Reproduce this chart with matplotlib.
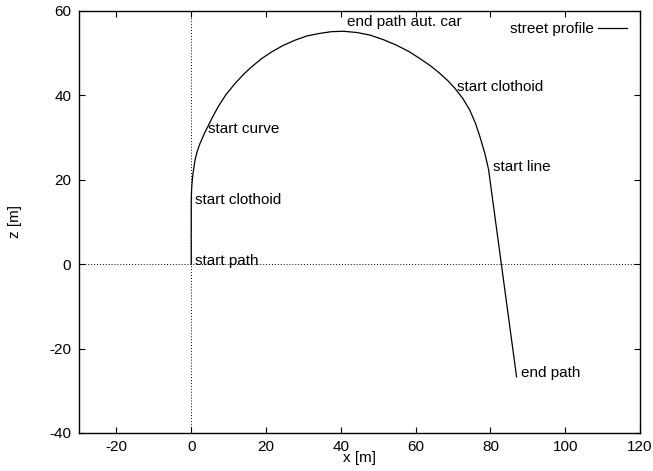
import matplotlib
matplotlib.use("Agg")
import matplotlib.pyplot as plt
from matplotlib.ticker import MultipleLocator

plt.rcParams["font.family"] = ["Liberation Sans", "DejaVu Sans"]
plt.rcParams["font.size"] = 11
plt.rcParams["axes.unicode_minus"] = False

# Street profile: sampled (x, z) positions along the path in metres
path_x = [0.0, 0.0, 0.05, 0.15, 0.3, 0.5, 0.75, 1.0, 1.6, 2.35, 3.7, 5.5,
          7.2, 9.3, 11.7, 14.0, 16.2, 18.8, 21.5, 24.5, 27.8, 31.0, 34.4,
          37.5, 40.7, 44.3, 47.8, 51.4, 54.9, 58.2, 61.2, 64.0, 66.5, 68.6,
          70.5, 72.6, 74.5, 76.0, 77.2, 78.5, 79.5, 87.0]
path_z = [0.0, 14.5, 16.5, 18.3, 20.0, 21.6, 23.1, 24.6, 26.7, 28.6, 31.3,
          34.5, 37.3, 40.2, 42.8, 45.0, 46.8, 48.7, 50.3, 51.8, 53.1, 54.1,
          54.7, 55.1, 55.2, 54.9, 54.3, 53.2, 51.9, 50.4, 48.7, 47.0, 45.2,
          43.5, 41.7, 39.3, 36.5, 33.4, 30.2, 26.3, 22.5, -26.7]

# Annotations along the path (text anchor: left edge, vertical centre)
label_text = ["start path", "start clothoid", "start curve",
              "end path aut. car", "start clothoid", "start line", "end path"]
label_x = [1.0, 1.0, 4.5, 41.7, 71.0, 80.6, 88.2]
label_z = [0.8, 15.2, 32.0, 57.3, 42.0, 23.1, -25.9]

x_limits = (-30, 120)
z_limits = (-40, 60)
tick_step = 20

fig = plt.figure(figsize=(6.53, 4.71), dpi=100)
ax = fig.add_axes([79 / 653, 38 / 471, 561 / 653, 422 / 471])

# zero axes
ax.axhline(0, color="black", lw=0.7, ls=(0, (1, 2)), zorder=1)
ax.axvline(0, color="black", lw=0.7, ls=(0, (1, 2)), zorder=1)

ax.plot(path_x, path_z, color="black", lw=0.9, label="street profile", zorder=3)

for txt, lx, lz in zip(label_text, label_x, label_z):
    ax.text(lx, lz, txt, ha="left", va="center", fontsize=11, zorder=4)

ax.set_xlim(*x_limits)
ax.set_ylim(*z_limits)
ax.xaxis.set_major_locator(MultipleLocator(tick_step))
ax.yaxis.set_major_locator(MultipleLocator(tick_step))
ax.tick_params(direction="in", top=True, right=True, length=4.3, width=0.8,
               labelsize=11)
ax.tick_params(axis="y", pad=5.5)
ax.tick_params(axis="x", pad=5.0)
for sp in ax.spines.values():
    sp.set_linewidth(1.0)

ax.set_xlabel("x [m]", fontsize=11)
ax.xaxis.set_label_coords(0.5, -0.059)
ax.xaxis.label.set_verticalalignment("center")
ax.set_ylabel("z [m]", fontsize=11)
ax.yaxis.set_label_coords(-0.114, 0.5)
ax.yaxis.label.set_verticalalignment("center")

ax.legend(loc="center right", bbox_to_anchor=(0.976, 0.9566), frameon=False,
          markerfirst=False, borderpad=0, borderaxespad=0, handlelength=1.86,
          handletextpad=0.3, fontsize=11)

fig.savefig("out.png", dpi=100)
